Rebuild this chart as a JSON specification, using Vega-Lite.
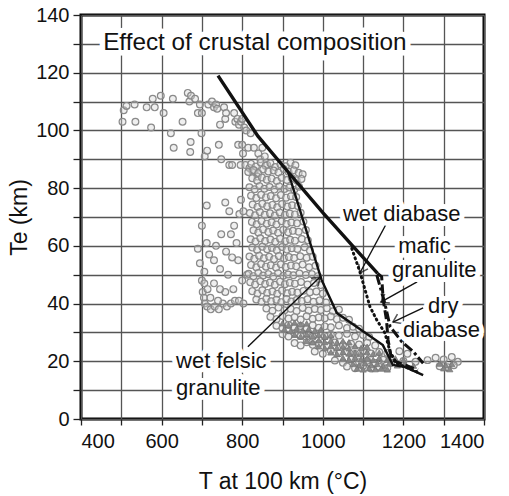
{
"$schema": "https://vega.github.io/schema/vega-lite/v6.json",
"width": 403, "height": 404,
"autosize": {"type": "none"},
"padding": {"left": 81, "top": 15, "right": 25, "bottom": 77},
"background": "white",
"config": {
  "font": "Liberation Sans",
  "view": {"stroke": "#000", "strokeWidth": 3},
  "axis": {"domain": false, "grid": true, "gridColor": "#555", "gridWidth": 1.3, "gridOpacity": 1,
    "tickColor": "#222", "tickWidth": 1.3, "labelFont": "Liberation Sans", "labelFontSize": 20, "labelColor": "#111",
    "titleFont": "Liberation Sans", "titleFontSize": 23, "titleFontWeight": "normal", "titleColor": "#111"}
},
"datasets": {
"pts": [
{"t":503,"e":103},{"t":506,"e":107},{"t":513,"e":108.5},{"t":533,"e":109},{"t":535,"e":103},{"t":563,"e":108},{"t":574,"e":101},{"t":578,"e":111},{"t":583,"e":108},{"t":598,"e":112},{"t":605,"e":106},{"t":623,"e":99},{"t":628,"e":111},{"t":630,"e":94},{"t":652,"e":103},{"t":665,"e":113},{"t":669,"e":110},{"t":673,"e":112},{"t":672,"e":96},{"t":671,"e":92.5},{"t":683,"e":111},{"t":690,"e":106},{"t":695,"e":109},{"t":699,"e":99},{"t":700,"e":106},{"t":707,"e":91},{"t":713,"e":93},{"t":716,"e":109},{"t":725,"e":110},{"t":730,"e":108},{"t":735,"e":109},{"t":738,"e":107.5},{"t":742,"e":95},{"t":745,"e":102},{"t":748,"e":90},{"t":755,"e":108},{"t":758,"e":104},{"t":760,"e":106},{"t":768,"e":88},{"t":775,"e":88},{"t":780,"e":106},{"t":783,"e":103},{"t":788,"e":104},{"t":792,"e":102},{"t":797,"e":103},{"t":800,"e":104},{"t":805,"e":101},{"t":790,"e":95},{"t":800,"e":95},{"t":796,"e":88},{"t":802,"e":92},{"t":810,"e":100},{"t":815,"e":94},{"t":821,"e":99},{"t":829,"e":94},{"t":808,"e":88},{"t":818,"e":87},{"t":825,"e":86},{"t":831,"e":86},{"t":840,"e":92},{"t":845,"e":90},{"t":850,"e":94},{"t":838,"e":84},{"t":856,"e":91},{"t":862,"e":88},
{"t":758,"e":75},{"t":768,"e":72},{"t":712,"e":74},{"t":712,"e":61},{"t":700,"e":67},{"t":690,"e":59},{"t":695,"e":54},{"t":706,"e":51},{"t":718,"e":57},{"t":730,"e":47},{"t":745,"e":52},{"t":760,"e":58},{"t":772,"e":64},{"t":780,"e":67},{"t":786,"e":61},{"t":793,"e":71},{"t":797,"e":76},{"t":803,"e":72},{"t":700,"e":48},{"t":702,"e":44},{"t":705,"e":42},{"t":707,"e":40},{"t":713,"e":39},{"t":722,"e":38},{"t":732,"e":39},{"t":742,"e":38},{"t":752,"e":40},{"t":762,"e":39},{"t":772,"e":40},{"t":782,"e":41},{"t":792,"e":41},{"t":803,"e":40},{"t":706,"e":47},{"t":714,"e":45},{"t":721,"e":42},{"t":740,"e":41},{"t":758,"e":44},{"t":778,"e":45},{"t":800,"e":48},{"t":812,"e":50},{"t":735,"e":60},{"t":748,"e":64},{"t":765,"e":50},{"t":790,"e":55},{"t":775,"e":56},{"t":745,"e":45},{"t":730,"e":55},
{"t":822,"e":88.4},{"t":834,"e":87.5},{"t":846,"e":88.9},{"t":858,"e":87.8},{"t":870,"e":88.6},{"t":882,"e":87.3},{"t":895,"e":88.2},{"t":908,"e":87.6},{"t":920,"e":88.8},{"t":932,"e":87.9},
{"t":815,"e":85.6},{"t":828,"e":86.3},{"t":840,"e":85.2},{"t":852,"e":86.5},{"t":865,"e":85.8},{"t":878,"e":86.1},{"t":890,"e":85.4},{"t":903,"e":86.6},{"t":915,"e":85.7},{"t":928,"e":86.2},{"t":940,"e":85.3},{"t":950,"e":84.8},
{"t":825,"e":83.4},{"t":837,"e":82.6},{"t":849,"e":83.7},{"t":861,"e":82.9},{"t":873,"e":83.3},{"t":886,"e":82.5},{"t":898,"e":83.6},{"t":911,"e":82.8},{"t":923,"e":83.5},{"t":935,"e":82.7},{"t":947,"e":83.2},
{"t":818,"e":80.3},{"t":831,"e":79.6},{"t":843,"e":80.7},{"t":855,"e":79.8},{"t":868,"e":80.4},{"t":880,"e":79.5},{"t":892,"e":80.6},{"t":905,"e":79.7},{"t":917,"e":80.2},{"t":929,"e":79.4},{"t":941,"e":80.5},
{"t":822,"e":77.4},{"t":835,"e":76.6},{"t":847,"e":77.7},{"t":859,"e":76.8},{"t":871,"e":77.3},{"t":884,"e":76.5},{"t":896,"e":77.6},{"t":909,"e":76.7},{"t":921,"e":77.2},{"t":934,"e":76.9},
{"t":826,"e":74.3},{"t":838,"e":73.5},{"t":850,"e":74.6},{"t":862,"e":73.7},{"t":875,"e":74.2},{"t":887,"e":73.4},{"t":899,"e":74.5},{"t":912,"e":73.6},{"t":924,"e":74.1},{"t":938,"e":73.8},
{"t":819,"e":71.4},{"t":832,"e":70.6},{"t":844,"e":71.7},{"t":856,"e":70.8},{"t":869,"e":71.3},{"t":881,"e":70.5},{"t":893,"e":71.6},{"t":906,"e":70.7},{"t":918,"e":71.2},{"t":931,"e":70.9},{"t":945,"e":71.5},
{"t":824,"e":68.3},{"t":836,"e":67.5},{"t":848,"e":68.6},{"t":861,"e":67.7},{"t":873,"e":68.2},{"t":885,"e":67.4},{"t":898,"e":68.5},{"t":910,"e":67.6},{"t":922,"e":68.1},{"t":936,"e":67.8},{"t":952,"e":68.4},
{"t":828,"e":65.4},{"t":840,"e":64.6},{"t":852,"e":65.7},{"t":865,"e":64.8},{"t":877,"e":65.3},{"t":889,"e":64.5},{"t":902,"e":65.6},{"t":914,"e":64.7},{"t":926,"e":65.2},{"t":940,"e":64.9},{"t":958,"e":65.5},
{"t":821,"e":62.3},{"t":833,"e":61.5},{"t":845,"e":62.6},{"t":857,"e":61.7},{"t":870,"e":62.2},{"t":882,"e":61.4},{"t":894,"e":62.5},{"t":907,"e":61.6},{"t":919,"e":62.1},{"t":931,"e":61.8},{"t":948,"e":62.4},{"t":963,"e":61.9},
{"t":825,"e":59.4},{"t":837,"e":58.6},{"t":850,"e":59.7},{"t":862,"e":58.8},{"t":874,"e":59.3},{"t":886,"e":58.5},{"t":899,"e":59.6},{"t":911,"e":58.7},{"t":923,"e":59.2},{"t":937,"e":58.9},{"t":955,"e":59.5},{"t":968,"e":58.4},
{"t":818,"e":56.3},{"t":830,"e":55.5},{"t":842,"e":56.6},{"t":854,"e":55.7},{"t":867,"e":56.2},{"t":879,"e":55.4},{"t":891,"e":56.5},{"t":904,"e":55.6},{"t":916,"e":56.1},{"t":929,"e":55.8},{"t":944,"e":56.4},{"t":960,"e":55.9},{"t":975,"e":56.2},
{"t":822,"e":53.4},{"t":835,"e":52.6},{"t":847,"e":53.7},{"t":859,"e":52.8},{"t":871,"e":53.3},{"t":884,"e":52.5},{"t":896,"e":53.6},{"t":908,"e":52.7},{"t":921,"e":53.2},{"t":934,"e":52.9},{"t":950,"e":53.5},{"t":966,"e":52.6},{"t":982,"e":53.1},
{"t":816,"e":50.3},{"t":828,"e":49.5},{"t":840,"e":50.6},{"t":852,"e":49.7},{"t":865,"e":50.2},{"t":877,"e":49.4},{"t":889,"e":50.5},{"t":902,"e":49.6},{"t":914,"e":50.1},{"t":927,"e":49.8},{"t":942,"e":50.4},{"t":958,"e":49.9},{"t":973,"e":50.2},{"t":988,"e":49.5},
{"t":820,"e":47.4},{"t":832,"e":46.6},{"t":845,"e":47.7},{"t":857,"e":46.8},{"t":869,"e":47.3},{"t":881,"e":46.5},{"t":894,"e":47.6},{"t":906,"e":46.7},{"t":918,"e":47.2},{"t":931,"e":46.9},{"t":946,"e":47.5},{"t":962,"e":46.6},{"t":978,"e":47.1},{"t":995,"e":46.4},
{"t":825,"e":44.3},{"t":838,"e":43.5},{"t":850,"e":44.6},{"t":862,"e":43.7},{"t":875,"e":44.2},{"t":887,"e":43.4},{"t":899,"e":44.5},{"t":912,"e":43.6},{"t":924,"e":44.1},{"t":937,"e":43.8},{"t":952,"e":44.4},{"t":968,"e":43.9},{"t":984,"e":44.2},{"t":1000,"e":43.5},
{"t":835,"e":41.4},{"t":848,"e":40.6},{"t":860,"e":41.7},{"t":872,"e":40.8},{"t":885,"e":41.3},{"t":897,"e":40.5},{"t":910,"e":41.6},{"t":922,"e":40.7},{"t":935,"e":41.2},{"t":948,"e":40.9},{"t":962,"e":41.5},{"t":977,"e":40.6},{"t":992,"e":41.1},{"t":1008,"e":40.4},
{"t":860,"e":38.3},{"t":875,"e":37.5},{"t":890,"e":38.6},{"t":905,"e":37.7},{"t":920,"e":38.2},{"t":935,"e":37.4},{"t":950,"e":38.5},{"t":965,"e":37.6},{"t":980,"e":38.1},{"t":995,"e":37.8},{"t":1010,"e":38.4},{"t":1025,"e":37.3},{"t":1040,"e":37.9},
{"t":870,"e":35.4},{"t":885,"e":34.6},{"t":900,"e":35.7},{"t":915,"e":34.8},{"t":930,"e":35.3},{"t":945,"e":34.5},{"t":960,"e":35.6},{"t":975,"e":34.7},{"t":990,"e":35.2},{"t":1005,"e":34.9},{"t":1020,"e":35.5},{"t":1035,"e":34.6},{"t":1050,"e":35.1},{"t":1065,"e":34.4},
{"t":885,"e":32.3},{"t":900,"e":31.5},{"t":915,"e":32.6},{"t":930,"e":31.7},{"t":945,"e":32.2},{"t":960,"e":31.4},{"t":975,"e":32.5},{"t":990,"e":31.6},{"t":1005,"e":32.1},{"t":1020,"e":31.8},{"t":1040,"e":32.4},{"t":1060,"e":31.5},{"t":1075,"e":32.0},{"t":1090,"e":31.3},
{"t":900,"e":29.4},{"t":915,"e":28.6},{"t":930,"e":29.7},{"t":945,"e":28.8},{"t":960,"e":29.3},{"t":975,"e":28.5},{"t":990,"e":29.6},{"t":1005,"e":28.7},{"t":1020,"e":29.2},{"t":1040,"e":28.9},{"t":1060,"e":29.5},{"t":1080,"e":28.6},{"t":1100,"e":29.1},{"t":1115,"e":28.4},
{"t":930,"e":26.3},{"t":945,"e":25.5},{"t":960,"e":26.6},{"t":975,"e":25.7},{"t":990,"e":26.2},{"t":1010,"e":25.4},{"t":1030,"e":26.5},{"t":1050,"e":25.6},{"t":1070,"e":26.1},{"t":1090,"e":25.8},{"t":1110,"e":26.4},{"t":1130,"e":25.5},
{"t":980,"e":23.4},{"t":1000,"e":22.6},{"t":1020,"e":23.7},{"t":1040,"e":22.8},{"t":1060,"e":23.3},{"t":1080,"e":22.5},{"t":1100,"e":23.6},{"t":1120,"e":22.7},{"t":1140,"e":23.2},{"t":1160,"e":22.9},{"t":1190,"e":23.5},{"t":1210,"e":22.6},
{"t":1030,"e":20.3},{"t":1050,"e":19.5},{"t":1070,"e":20.6},{"t":1090,"e":19.7},{"t":1110,"e":20.2},{"t":1130,"e":19.4},{"t":1150,"e":20.5},{"t":1170,"e":19.6},{"t":1200,"e":20.1},{"t":1230,"e":19.8},{"t":1260,"e":20.4},{"t":1280,"e":21.2},{"t":1300,"e":20.6},{"t":1320,"e":21.5},{"t":1335,"e":19.8},
{"t":1060,"e":18.2},{"t":1080,"e":17.6},{"t":1100,"e":18.4},{"t":1120,"e":17.5},{"t":1140,"e":18.1},{"t":1160,"e":17.7},{"t":1290,"e":18.3},{"t":1310,"e":17.9},{"t":1325,"e":18.6}
],
"dark": [
{"t":900,"e":33.2},{"t":915,"e":32.6},{"t":930,"e":33.4},{"t":945,"e":32.8},{"t":960,"e":33.1},
{"t":905,"e":31.1},{"t":920,"e":30.5},{"t":935,"e":31.3},{"t":950,"e":30.7},{"t":965,"e":31.2},{"t":980,"e":30.6},{"t":995,"e":31.0},
{"t":930,"e":29.2},{"t":945,"e":28.6},{"t":960,"e":29.4},{"t":975,"e":28.8},{"t":990,"e":29.1},{"t":1005,"e":28.5},{"t":1020,"e":29.0},
{"t":960,"e":27.1},{"t":975,"e":26.6},{"t":990,"e":27.3},{"t":1005,"e":26.7},{"t":1020,"e":27.2},{"t":1035,"e":26.5},{"t":1050,"e":27.0},{"t":1065,"e":26.6},
{"t":990,"e":25.2},{"t":1005,"e":24.6},{"t":1020,"e":25.3},{"t":1035,"e":24.7},{"t":1050,"e":25.1},{"t":1065,"e":24.5},{"t":1080,"e":25.2},{"t":1095,"e":24.6},{"t":1110,"e":25.0},
{"t":1020,"e":23.1},{"t":1035,"e":22.6},{"t":1050,"e":23.3},{"t":1065,"e":22.7},{"t":1080,"e":23.0},{"t":1095,"e":22.5},{"t":1110,"e":23.2},{"t":1125,"e":22.6},{"t":1140,"e":23.0},
{"t":1050,"e":21.2},{"t":1065,"e":20.6},{"t":1080,"e":21.3},{"t":1095,"e":20.7},{"t":1110,"e":21.1},{"t":1125,"e":20.5},{"t":1140,"e":21.2},{"t":1160,"e":20.6},{"t":1180,"e":21.0},{"t":1200,"e":20.5},
{"t":1075,"e":19.1},{"t":1090,"e":18.6},{"t":1105,"e":19.3},{"t":1120,"e":18.7},{"t":1135,"e":19.1},{"t":1150,"e":18.5},{"t":1165,"e":19.2},{"t":1185,"e":18.6},{"t":1205,"e":19.0},{"t":1225,"e":18.5},{"t":1290,"e":19.2},{"t":1305,"e":18.6},{"t":1320,"e":19.1},
{"t":1085,"e":17.5},{"t":1100,"e":17.2},{"t":1115,"e":17.6},{"t":1130,"e":17.3},{"t":1145,"e":17.5},{"t":1160,"e":17.2},{"t":1300,"e":17.6},{"t":1315,"e":17.3}
],
"lines": [
{"s":"common","t":740,"e":119},{"s":"common","t":839,"e":98},{"s":"common","t":914,"e":85.6},{"s":"common","t":1000,"e":71.5},{"s":"common","t":1074,"e":60},{"s":"common","t":1136,"e":50.5},
{"s":"wet felsic granulite","t":914,"e":85.6},{"s":"wet felsic granulite","t":997,"e":48.2},{"s":"wet felsic granulite","t":1035,"e":36.7},{"s":"wet felsic granulite","t":1149,"e":25.6},{"s":"wet felsic granulite","t":1174,"e":18.7},{"s":"wet felsic granulite","t":1205,"e":18},{"s":"wet felsic granulite","t":1249,"e":15.2},
{"s":"wet diabase","t":1072,"e":59.1},{"s":"wet diabase","t":1092,"e":51},{"s":"wet diabase","t":1117,"e":38.9},{"s":"wet diabase","t":1134,"e":34.3},{"s":"wet diabase","t":1154,"e":29.8},{"s":"wet diabase","t":1167,"e":23.3},{"s":"wet diabase","t":1183,"e":19.3},{"s":"wet diabase","t":1241,"e":15.9},
{"s":"mafic granulite","t":1136,"e":50.5},{"s":"mafic granulite","t":1146,"e":49.3},{"s":"mafic granulite","t":1150,"e":41.2},{"s":"mafic granulite","t":1158,"e":34.3},{"s":"mafic granulite","t":1162,"e":27.4},{"s":"mafic granulite","t":1171,"e":20.4},{"s":"mafic granulite","t":1236,"e":17},
{"s":"dry diabase","t":1134,"e":49.9},{"s":"dry diabase","t":1154,"e":40},{"s":"dry diabase","t":1167,"e":32},{"s":"dry diabase","t":1196,"e":26.8},{"s":"dry diabase","t":1225,"e":23.3},{"s":"dry diabase","t":1249,"e":19.3}
],
"arrows": [
{"k":"felsic","t":993,"e":49.2,"t2":814,"e2":25},
{"k":"wetdiab","t":1092,"e":50.6,"t2":1159,"e2":68},
{"k":"mafic","t":1144,"e":40.5,"t2":1234,"e2":47.5},
{"k":"dry","t":1174,"e":33.6,"t2":1249,"e2":38.5}
],
"labels": [
{"txt":"wet diabase","t":1050,"e":71},
{"txt":"mafic","t":1187,"e":60},
{"txt":"granulite","t":1172,"e":51.6},
{"txt":"dry","t":1261,"e":39},
{"txt":"diabase","t":1199,"e":30.8},
{"txt":"wet felsic","t":636,"e":20},
{"txt":"granulite","t":636,"e":10.7}
],
"title": [
{"txt":"Effect of crustal composition","t":455,"e":130.3}
]
},
"encoding": {
  "x": {"field": "t", "type": "quantitative", "scale": {"domain": [400, 1400], "nice": false, "zero": false},
    "axis": {"title": "T at 100 km (°C)", "grid": true, "values": [400,500,600,700,800,900,1000,1100,1200,1300,1400], "format": "d",
      "labelExpr": "datum.value % 200 === 0 ? datum.label : ''", "tickSize": 6, "labelPadding": 6, "titlePadding": 19}},
  "y": {"field": "e", "type": "quantitative", "scale": {"domain": [0, 140], "nice": false},
    "axis": {"title": "Te (km)", "grid": true, "values": [0,10,20,30,40,50,60,70,80,90,100,110,120,130,140], "format": "d",
      "labelExpr": "datum.value % 20 === 0 ? datum.label : ''", "tickSize": 8, "labelPadding": 4, "titlePadding": 4}}
},
"layer": [
  {"data": {"name": "pts"}, "mark": {"type": "point", "shape": "circle", "size": 46, "filled": true, "fill": "#d6d6d6", "fillOpacity": 0.4, "stroke": "#8a8a8a", "strokeWidth": 1.2}},
  {"data": {"name": "dark"}, "mark": {"type": "point", "shape": "triangle-up", "size": 40, "filled": true, "fill": "#858585", "fillOpacity": 0.95, "stroke": "#767676", "strokeWidth": 0.8}},
  {"data": {"name": "lines"}, "transform": [{"filter": "datum.s === 'common'"}], "mark": {"type": "line", "color": "#111", "strokeWidth": 3.4}},
  {"data": {"name": "lines"}, "transform": [{"filter": "datum.s === 'wet felsic granulite'"}], "mark": {"type": "line", "color": "#111", "strokeWidth": 2.4}},
  {"data": {"name": "lines"}, "transform": [{"filter": "datum.s === 'wet diabase'"}], "mark": {"type": "line", "color": "#111", "strokeWidth": 3, "strokeDash": [1, 4], "strokeCap": "round"}},
  {"data": {"name": "lines"}, "transform": [{"filter": "datum.s === 'mafic granulite'"}], "mark": {"type": "line", "color": "#111", "strokeWidth": 3, "strokeDash": [9, 4]}},
  {"data": {"name": "lines"}, "transform": [{"filter": "datum.s === 'dry diabase'"}], "mark": {"type": "line", "color": "#111", "strokeWidth": 3, "strokeDash": [10, 3, 3, 3]}},
  {"data": {"name": "arrows"}, "mark": {"type": "rule", "color": "#111", "strokeWidth": 1.4}, "encoding": {"x2": {"field": "t2"}, "y2": {"field": "e2"}}},
  {"data": {"name": "arrows"}, "transform": [{"filter": "datum.k === 'felsic'"}], "mark": {"type": "point", "shape": "M-1,-0.7L0,0L-1,0.7", "size": 220, "filled": false, "stroke": "#111", "strokeWidth": 1.5, "angle": 316}},
  {"data": {"name": "arrows"}, "transform": [{"filter": "datum.k === 'wetdiab'"}], "mark": {"type": "point", "shape": "M-1,-0.7L0,0L-1,0.7", "size": 220, "filled": false, "stroke": "#111", "strokeWidth": 1.5, "angle": 118}},
  {"data": {"name": "arrows"}, "transform": [{"filter": "datum.k === 'mafic'"}], "mark": {"type": "point", "shape": "M-1,-0.7L0,0L-1,0.7", "size": 220, "filled": false, "stroke": "#111", "strokeWidth": 1.5, "angle": 151}},
  {"data": {"name": "arrows"}, "transform": [{"filter": "datum.k === 'dry'"}], "mark": {"type": "point", "shape": "M-1,-0.7L0,0L-1,0.7", "size": 220, "filled": false, "stroke": "#111", "strokeWidth": 1.5, "angle": 155}},
  {"data": {"name": "labels"}, "mark": {"type": "text", "align": "left", "baseline": "middle", "font": "Liberation Sans", "fontSize": 22, "fill": "white", "stroke": "white", "strokeWidth": 10, "strokeJoin": "round"}, "encoding": {"text": {"field": "txt"}}},
  {"data": {"name": "labels"}, "mark": {"type": "text", "align": "left", "baseline": "middle", "font": "Liberation Sans", "fontSize": 22, "fill": "#111"}, "encoding": {"text": {"field": "txt"}}},
  {"data": {"name": "title"}, "mark": {"type": "text", "align": "left", "baseline": "middle", "font": "Liberation Sans", "fontSize": 24.3, "fill": "white", "stroke": "white", "strokeWidth": 11, "strokeJoin": "round"}, "encoding": {"text": {"field": "txt"}}},
  {"data": {"name": "title"}, "mark": {"type": "text", "align": "left", "baseline": "middle", "font": "Liberation Sans", "fontSize": 24.3, "fill": "#111"}, "encoding": {"text": {"field": "txt"}}}
]
}
